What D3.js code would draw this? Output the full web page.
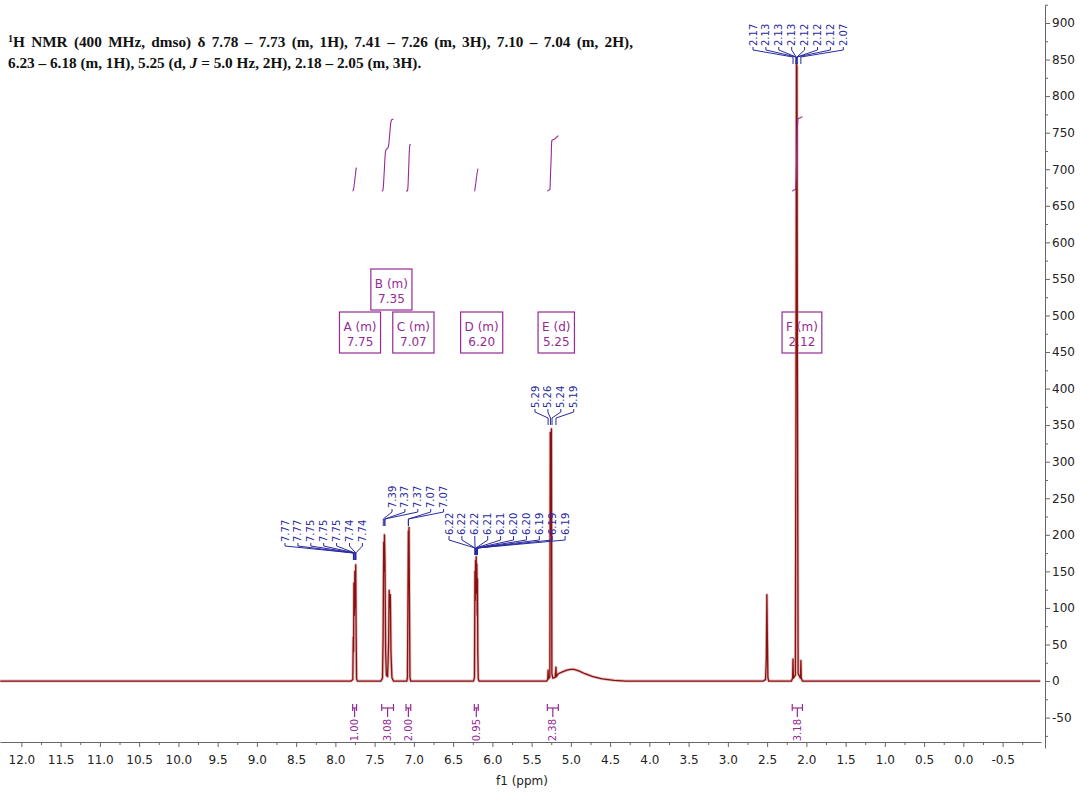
<!DOCTYPE html>
<html><head><meta charset="utf-8">
<script src="https://cdn.jsdelivr.net/npm/d3@7"></script>
<style>body{margin:0;background:#fff} svg{display:block}</style>
</head><body><svg id="c" width="1081" height="792"></svg>
<script>
// ---------------- DATA ----------------
// spectrum vertices (ppm, intensity)
const specPpm = [12.27, 7.80, 7.778, 7.772, 7.768, 7.764, 7.758, 7.752, 7.747, 7.741, 7.736, 7.730, 7.72,
  7.42, 7.40, 7.392, 7.384, 7.380, 7.375, 7.368, 7.36, 7.35, 7.335, 7.322, 7.315, 7.308, 7.30, 7.292, 7.28, 7.26,
  7.09, 7.082, 7.075, 7.07, 7.066, 7.062, 7.056, 7.05, 7.04,
  6.24, 6.228, 6.222, 6.218, 6.214, 6.21, 6.206, 6.202, 6.198, 6.193, 6.19, 6.186, 6.18, 6.17,
  5.31, 5.295, 5.29, 5.285, 5.268, 5.262, 5.256, 5.248, 5.242, 5.23, 5.20, 5.19, 5.185, 5.16, 5.10, 5.05, 5.00, 4.96, 4.90, 4.82, 4.72, 4.60, 4.45, 4.30,
  2.55, 2.52, 2.51, 2.503, 2.497, 2.49, 2.48,
  2.19, 2.175, 2.17, 2.165, 2.14, 2.132, 2.126, 2.12, 2.114, 2.105, 2.075, 2.07, 2.065, 2.05, -0.98];
const specInt = [0, 0, 2, 60, 40, 134, 90, 150, 100, 159, 70, 3, 0,
  0, 4, 60, 190, 150, 200, 160, 40, 8, 6, 50, 124, 100, 118, 40, 5, 0,
  0, 5, 120, 205, 170, 210, 100, 5, 0,
  0, 5, 150, 110, 165, 130, 170, 120, 160, 90, 140, 40, 3, 0,
  0, 2, 15, 3, 6, 340, 200, 345, 10, 4, 5, 19, 6, 10, 13, 15, 16, 16, 14, 10, 6, 3, 1, 0,
  0, 2, 30, 118, 60, 5, 0,
  0, 4, 30, 4, 8, 400, 845, 840, 420, 10, 4, 28, 4, 0, 0];

// peak labels (groups)
const peakGroups = [
  ["7.77", "7.77", "7.75", "7.75", "7.75", "7.74", "7.74"],
  ["7.39", "7.37", "7.37", "7.07", "7.07"],
  ["6.22", "6.22", "6.22", "6.21", "6.21", "6.20", "6.20", "6.19", "6.19", "6.19"],
  ["5.29", "5.26", "5.24", "5.19"],
  ["2.17", "2.13", "2.13", "2.13", "2.12", "2.12", "2.12", "2.07"]
];

// multiplets
const multLetter = ["A", "B", "C", "D", "E", "F"];
const multType = ["m", "m", "m", "m", "d", "m"];
const multShift = [7.75, 7.35, 7.07, 6.20, 5.25, 2.12];

// integrals
const intFrom = [7.78, 7.41, 7.10, 6.23, 5.30, 2.18];
const intTo = [7.73, 7.26, 7.04, 6.18, 5.16, 2.05];
const intValue = [1.00, 3.08, 2.00, 0.95, 2.38, 3.18];

// axis ticks
const xMajorTicks = d3.range(24, -2, -1).map(v => v / 2);   // 12.0 ... -0.5
const yMajorTicks = d3.range(-50, 901, 50);

// ---------------- LAYOUT ----------------
const groupLayout = [ // first label x, text bottom, bracket y, converge y
  {x0: 285, tb: 542, br: 546, cv: 553},
  {x0: 392, tb: 508, br: 512, cv: 519},
  {x0: 449, tb: 535, br: 540, cv: 548},
  {x0: 535, tb: 408, br: 412, cv: 418},
  {x0: 753, tb: 46, br: 50, cv: 57}
];
const boxRow = [0, 1, 0, 0, 0, 0];
const labelStep = 12.9;
const specColor = "#8c1010", blue = "#2a2aa0", purple = "#952a95";

const svg = d3.select("#c");
const x = d3.scaleLinear().domain([12, -0.5]).range([21.4, 1002.6]);
const y = d3.scaleLinear().domain([-50, 900]).range([717.6, 23]);
const yInt = d3.scaleLinear().domain([0, 4]).range([191, 191 - 4 * 23.3]);

// ---- title ----
const title = svg.append("text").attr("font-family", "Liberation Serif, Times New Roman, serif")
  .attr("font-weight", "bold").attr("font-size", 15.25).attr("fill", "#111");
const line1 = "H NMR (400 MHz, dmso) \u03b4 7.78 \u2013 7.73 (m, 1H), 7.41 \u2013 7.26 (m, 3H), 7.10 \u2013 7.04 (m, 2H),";
const t1 = title.append("tspan").attr("x", 8).attr("y", 47);
t1.append("tspan").attr("font-size", 10).attr("dy", -5).text("1");
t1.append("tspan").attr("dy", 5).text(line1);
const t2 = title.append("tspan").attr("x", 8).attr("y", 68);
t2.append("tspan").text("6.23 \u2013 6.18 (m, 1H), 5.25 (d, ");
t2.append("tspan").attr("font-style", "italic").text("J");
t2.append("tspan").text(" = 5.0 Hz, 2H), 2.18 \u2013 2.05 (m, 3H).");
// first line of a justified paragraph: stretch the spaces to the reference width
{
  const len = t1.node().getComputedTextLength();
  const spaces = (line1.match(/ /g) || []).length;
  t1.attr("word-spacing", Math.max(0, (625 - len) / spaces));
}

// ---- axes ----
const fmt = v => d3.format(".1f")(v).replace("\u2212", "-");
const xAxScale = x.copy().domain([x.invert(0), x.invert(1041)]).range([0, 1041]);
const gx = svg.append("g").attr("transform", "translate(0,742)");
gx.call(d3.axisBottom(xAxScale).tickValues(xMajorTicks).tickFormat(fmt).tickSize(5).tickSizeOuter(0).tickPadding(8));
const gxm = svg.append("g").attr("transform", "translate(0,742)");
gxm.call(d3.axisBottom(xAxScale).tickValues(xMajorTicks.map(v => v - 0.25).filter(v => v > -1)).tickFormat("").tickSize(3).tickSizeOuter(0));
gxm.select(".domain").remove();

const yAxScale = y.copy().domain([y.invert(5), y.invert(748)]).range([5, 748]);
const gy = svg.append("g").attr("transform", "translate(1045,0)");
gy.call(d3.axisRight(yAxScale).tickValues(yMajorTicks).tickFormat(d3.format("d")).tickSize(5).tickSizeOuter(0).tickPadding(2));
const gym = svg.append("g").attr("transform", "translate(1045,0)");
gym.call(d3.axisRight(yAxScale).tickValues(d3.range(-75, 926, 50)).tickFormat("").tickSize(3).tickSizeOuter(0));
gym.select(".domain").remove();
svg.selectAll(".domain, .tick line").attr("stroke", "#666");
svg.selectAll(".tick text").attr("font-family", "DejaVu Sans, Verdana, sans-serif").attr("font-size", 12).attr("fill", "#222");
gy.selectAll(".tick text").text(d => String(d).replace("\u2212", "-"));

svg.append("text").attr("x", 522).attr("y", 785).attr("text-anchor", "middle")
  .attr("font-family", "DejaVu Sans, Verdana, sans-serif").attr("font-size", 12).attr("fill", "#222").text("f1 (ppm)");

// ---- multiplet boxes (under spectrum) ----
multLetter.forEach((L, i) => {
  const cx = x(multShift[i]) + 5;
  const top = boxRow[i] === 0 ? 312 : 269;
  const g = svg.append("g");
  const l1 = g.append("text").attr("x", cx).attr("y", top + 19).attr("text-anchor", "middle")
    .attr("font-family", "DejaVu Sans, Verdana, sans-serif").attr("font-size", 12).attr("fill", purple)
    .text(`${L} (${multType[i]})`);
  g.append("text").attr("x", cx).attr("y", top + 34).attr("text-anchor", "middle")
    .attr("font-family", "DejaVu Sans, Verdana, sans-serif").attr("font-size", 12).attr("fill", purple)
    .text(multShift[i].toFixed(2));
  const w = l1.node().getComputedTextLength() + 8;
  g.insert("rect", "text").attr("x", cx - w / 2).attr("y", top).attr("width", w).attr("height", 41)
    .attr("fill", "none").attr("stroke", purple).attr("stroke-width", 1.2);
});

// ---- spectrum ----
const specData = specPpm.map((p, i) => [p, specInt[i]]);
const specLine = d3.line().x(d => x(d[0])).y(d => y(d[1]));
svg.append("path").datum(specData).attr("d", specLine)
  .attr("fill", "none").attr("stroke", "#c98a8a").attr("stroke-width", 3).attr("stroke-opacity", 0.55)
  .attr("stroke-linejoin", "round");
svg.append("path").datum(specData).attr("d", specLine)
  .attr("fill", "none").attr("stroke", specColor).attr("stroke-width", 1.3).attr("stroke-linejoin", "round");

// ---- integral curves ----
function specAt(p) {
  for (let i = 0; i < specPpm.length - 1; i++) {
    const a = specPpm[i], b = specPpm[i + 1];
    if (p <= a && p >= b) {
      const t = (a - p) / (a - b);
      return specInt[i] + t * (specInt[i + 1] - specInt[i]);
    }
  }
  return 0;
}
intFrom.forEach((f, k) => {
  const to = intTo[k], n = 300, step = (f - to) / n;
  let cum = 0; const pts = [[f, 0]];
  for (let j = 1; j <= n; j++) {
    const p1 = f - (j - 1) * step, p2 = f - j * step;
    cum += (specAt(p1) + specAt(p2)) / 2 * step;
    pts.push([p2, cum]);
  }
  const total = cum;
  svg.append("path").datum(pts)
    .attr("d", d3.line().x(d => x(d[0])).y(d => yInt(intValue[k] * d[1] / total)).curve(d3.curveBasis))
    .attr("fill", "none").attr("stroke", purple).attr("stroke-width", 1.1);

  // bottom integral labels
  const xa = x(f), xb = x(to), xm = (xa + xb) / 2;
  const g = svg.append("g").attr("stroke", purple).attr("stroke-width", 1.2);
  g.append("line").attr("x1", xa).attr("x2", xb).attr("y1", 708).attr("y2", 708);
  g.append("line").attr("x1", xa).attr("x2", xa).attr("y1", 704).attr("y2", 711);
  g.append("line").attr("x1", xb).attr("x2", xb).attr("y1", 704).attr("y2", 711);
  g.append("line").attr("x1", xm).attr("x2", xm).attr("y1", 708).attr("y2", 717);
  svg.append("text").attr("transform", `translate(${xm},719) rotate(-90)`).attr("text-anchor", "end")
    .attr("dy", "0.35em").attr("font-family", "DejaVu Sans, Verdana, sans-serif").attr("font-size", 10)
    .attr("fill", purple).text(intValue[k].toFixed(2));
});

// ---- peak labels ----
peakGroups.forEach((labels, gi) => {
  const L = groupLayout[gi];
  labels.forEach((lab, j) => {
    const lx = L.x0 + j * labelStep;
    const px = x(parseFloat(lab));
    svg.append("text").attr("transform", `translate(${lx},${L.tb}) rotate(-90)`)
      .attr("dy", "0.35em").attr("font-family", "DejaVu Sans, Verdana, sans-serif").attr("font-size", 10)
      .attr("fill", blue).text(lab);
    svg.append("path").attr("d", `M${lx},${L.tb + 1}L${lx},${L.br}L${px},${L.cv}L${px},${L.cv + 7}`)
      .attr("fill", "none").attr("stroke", blue).attr("stroke-width", 1);
  });
});
</script></body></html>
